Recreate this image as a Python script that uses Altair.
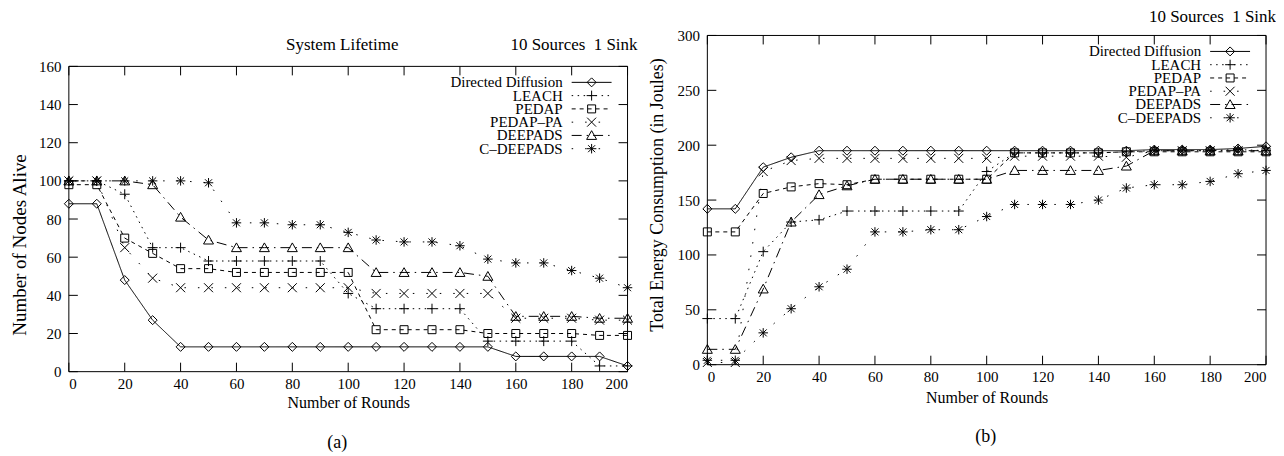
import altair as alt
import pandas as pd

FONT = "Liberation Serif"

rounds = list(range(0, 201, 10))
names = ["Directed Diffusion", "LEACH", "PEDAP", "PEDAP\u2013PA", "DEEPADS", "C\u2013DEEPADS"]

# (a) System Lifetime: number of nodes alive
alive_dd = [88, 88, 48, 27, 13, 13, 13, 13, 13, 13, 13, 13, 13, 13, 13, 13, 8, 8, 8, 8, 3]
alive_leach = [100, 100, 93, 65, 65, 58, 58, 58, 58, 58, 41, 33, 33, 33, 33, 16, 16, 16, 16, 3, 3]
alive_pedap = [98, 98, 70, 62, 54, 54, 52, 52, 52, 52, 52, 22, 22, 22, 22, 20, 20, 20, 20, 19, 19]
alive_pedappa = [100, 100, 65, 49, 44, 44, 44, 44, 44, 44, 44, 41, 41, 41, 41, 41, 28, 28, 28, 27, 27]
alive_deepads = [100, 100, 100, 98, 81, 69, 65, 65, 65, 65, 65, 52, 52, 52, 52, 50, 29, 29, 29, 28, 28]
alive_cdeepads = [100, 100, 100, 100, 100, 99, 78, 78, 77, 77, 73, 69, 68, 68, 66, 59, 57, 57, 53, 49, 44]

# (b) Total energy consumption (in Joules)
energy_dd = [142, 142, 180, 189, 195, 195, 195, 195, 195, 195, 195, 195, 195, 195, 195, 195, 196, 196, 196, 197, 199]
energy_leach = [42, 42, 103, 130, 132, 140, 140, 140, 140, 140, 176, 193, 193, 193, 193, 194, 195, 195, 195, 196, 195]
energy_pedap = [121, 121, 156, 162, 165, 164, 169, 169, 169, 169, 169, 193, 193, 193, 193, 194, 194, 194, 194, 194, 194]
energy_pedappa = [2, 2, 176, 186, 188, 188, 188, 188, 188, 188, 188, 190, 190, 190, 190, 189, 195, 195, 195, 195, 195]
energy_deepads = [14, 14, 69, 130, 155, 163, 169, 169, 169, 169, 169, 177, 177, 177, 177, 181, 195, 195, 195, 195, 195]
energy_cdeepads = [4, 4, 29, 51, 71, 87, 121, 121, 123, 123, 135, 146, 146, 146, 150, 161, 164, 164, 167, 174, 177]

x_ticks = list(range(0, 201, 20))
alive_ticks = list(range(0, 161, 20))
energy_ticks = list(range(0, 301, 50))

# styles
DASHES = [[1, 0], [1.5, 4.5], [4, 4], [1.5, 12], [10, 5, 1.5, 5], [1.5, 12]]
SHAPES = [
    "M0,-0.9L0.9,0L0,0.9L-0.9,0Z",
    "M-1,0H1M0,-1V1",
    "M-0.8,-0.8H0.8V0.8H-0.8Z",
    "M-0.9,-0.9L0.9,0.9M-0.9,0.9L0.9,-0.9",
    "M0,-0.95L1,0.8H-1Z",
    "M-0.95,0H0.95M0,-0.95V0.95M-0.7,-0.7L0.7,0.7M-0.7,0.7L0.7,-0.7",
]
TICK = 9


def long_df(series_lists):
    rows = []
    for name, vals in zip(names, series_lists):
        for r, v in zip(rounds, vals):
            rows.append({"rounds": r, "value": v, "series": name})
    return pd.DataFrame(rows)


def one():
    return alt.InlineData(values=[{"k": 0}])


def build(series_lists, W, H, top, ymax, yticks, ytitle, ytitle_size, ytitle_y,
          right_title, right_title_y, left_title, label, label_x, label_y, xtitle_pad):
    """top = offset of the plot frame inside the group (lets the two panels differ)."""
    df = long_df(series_lists)
    xs = alt.Scale(domain=[0, 200], nice=False, zero=False)
    ys = alt.Scale(domain=[0, ymax], nice=False, range=[H, top])
    base = alt.Chart(df)
    lines = base.mark_line(color="black", strokeWidth=1).encode(
        x=alt.X("rounds:Q", scale=xs,
                axis=alt.Axis(values=x_ticks, title="Number of Rounds", labelPadding=5,
                              titlePadding=xtitle_pad)),
        y=alt.Y("value:Q", scale=ys,
                axis=alt.Axis(values=yticks, title=None, labelPadding=8)),
        strokeDash=alt.StrokeDash("series:N", scale=alt.Scale(domain=names, range=DASHES),
                                  legend=None),
        detail="series:N",
    )
    points = base.mark_point(filled=False, color="black", strokeWidth=1, opacity=1,
                             size=100).encode(
        x="rounds:Q",
        y="value:Q",
        shape=alt.Shape("series:N", scale=alt.Scale(domain=names, range=SHAPES), legend=None),
    )
    layers = [lines, points]

    # plot frame
    frame = dict(color="black", strokeWidth=1)
    layers.append(alt.Chart(one()).mark_rule(**frame).encode(
        x=alt.value(0), x2=alt.value(W), y=alt.value(top)))
    layers.append(alt.Chart(one()).mark_rule(**frame).encode(
        x=alt.value(0), x2=alt.value(W), y=alt.value(H)))
    layers.append(alt.Chart(one()).mark_rule(**frame).encode(
        x=alt.value(0), y=alt.value(top), y2=alt.value(H)))
    layers.append(alt.Chart(one()).mark_rule(**frame).encode(
        x=alt.value(W), y=alt.value(top), y2=alt.value(H)))

    # inward ticks on all four sides
    xt = pd.DataFrame({"rounds": x_ticks})
    yt = pd.DataFrame({"value": yticks})
    layers.append(alt.Chart(xt).mark_rule(**frame).encode(
        x=alt.X("rounds:Q"), y=alt.value(H), y2=alt.value(H - TICK)))
    layers.append(alt.Chart(xt).mark_rule(**frame).encode(
        x=alt.X("rounds:Q"), y=alt.value(top), y2=alt.value(top + TICK)))
    layers.append(alt.Chart(yt).mark_rule(**frame).encode(
        y=alt.Y("value:Q"), x=alt.value(0), x2=alt.value(TICK)))
    layers.append(alt.Chart(yt).mark_rule(**frame).encode(
        y=alt.Y("value:Q"), x=alt.value(W), x2=alt.value(W - TICK)))

    # legend (gnuplot style)
    for i, name in enumerate(names):
        ly = top + 16 + 13.3 * i
        layers.append(alt.Chart(one()).mark_text(
            align="right", baseline="middle", font=FONT, fontSize=15, color="black",
            text=name).encode(x=alt.value(W - 65), y=alt.value(ly)))
        rule_kw = {} if i == 0 else {"strokeDash": DASHES[i]}
        layers.append(alt.Chart(one()).mark_rule(color="black", strokeWidth=1, **rule_kw).encode(
            x=alt.value(W - 56), x2=alt.value(W - 16), y=alt.value(ly)))
        layers.append(alt.Chart(one()).mark_point(
            shape=SHAPES[i], size=100, filled=False, color="black", opacity=1,
            strokeWidth=1).encode(x=alt.value(W - 36), y=alt.value(ly)))

    # texts around the plot
    layers.append(alt.Chart(one()).mark_text(
        align="right", baseline="middle", font=FONT, fontSize=17, color="black",
        text=right_title).encode(x=alt.value(W + 10), y=alt.value(top + right_title_y)))
    if left_title:
        layers.append(alt.Chart(one()).mark_text(
            align="center", baseline="middle", font=FONT, fontSize=17, color="black",
            text=left_title).encode(x=alt.value(274), y=alt.value(top - 21)))
    layers.append(alt.Chart(one()).mark_text(
        align="center", baseline="middle", font=FONT, fontSize=ytitle_size, color="black",
        angle=270, text=ytitle).encode(x=alt.value(-49), y=alt.value(ytitle_y)))
    layers.append(alt.Chart(one()).mark_text(
        align="center", baseline="middle", font=FONT, fontSize=18, color="black",
        text=label).encode(x=alt.value(label_x), y=alt.value(label_y)))

    return alt.layer(*layers).properties(width=W, height=H)


left = build([alive_dd, alive_leach, alive_pedap, alive_pedappa, alive_deepads, alive_cdeepads],
             560, 337, 31, 160, alive_ticks, "Number of Nodes Alive", 19, 210,
             "10 Sources\u00a0 1 Sink", -21, "System Lifetime", "(a)", 269, 409, 3)
right = build([energy_dd, energy_leach, energy_pedap, energy_pedappa, energy_deepads, energy_cdeepads],
              560, 330, 0, 300, energy_ticks, "Total Energy Consumption (in Joules)", 18, 160,
              "10 Sources\u00a0 1 Sink", -18, None, "(b)", 279, 402, 5)

chart = alt.hconcat(left, right, spacing=11).properties(
    padding={"left": 3, "top": 0, "right": 0, "bottom": 0},
    background="white",
).configure_view(strokeWidth=0).configure_axis(
    labelFont=FONT, labelFontSize=15, labelColor="black",
    titleFont=FONT, titleFontSize=16, titleColor="black", titleFontWeight="normal",
    grid=False, ticks=False, tickSize=0, domain=False,
)

chart.save("out.html", embed_options={"renderer": "svg", "actions": False})
